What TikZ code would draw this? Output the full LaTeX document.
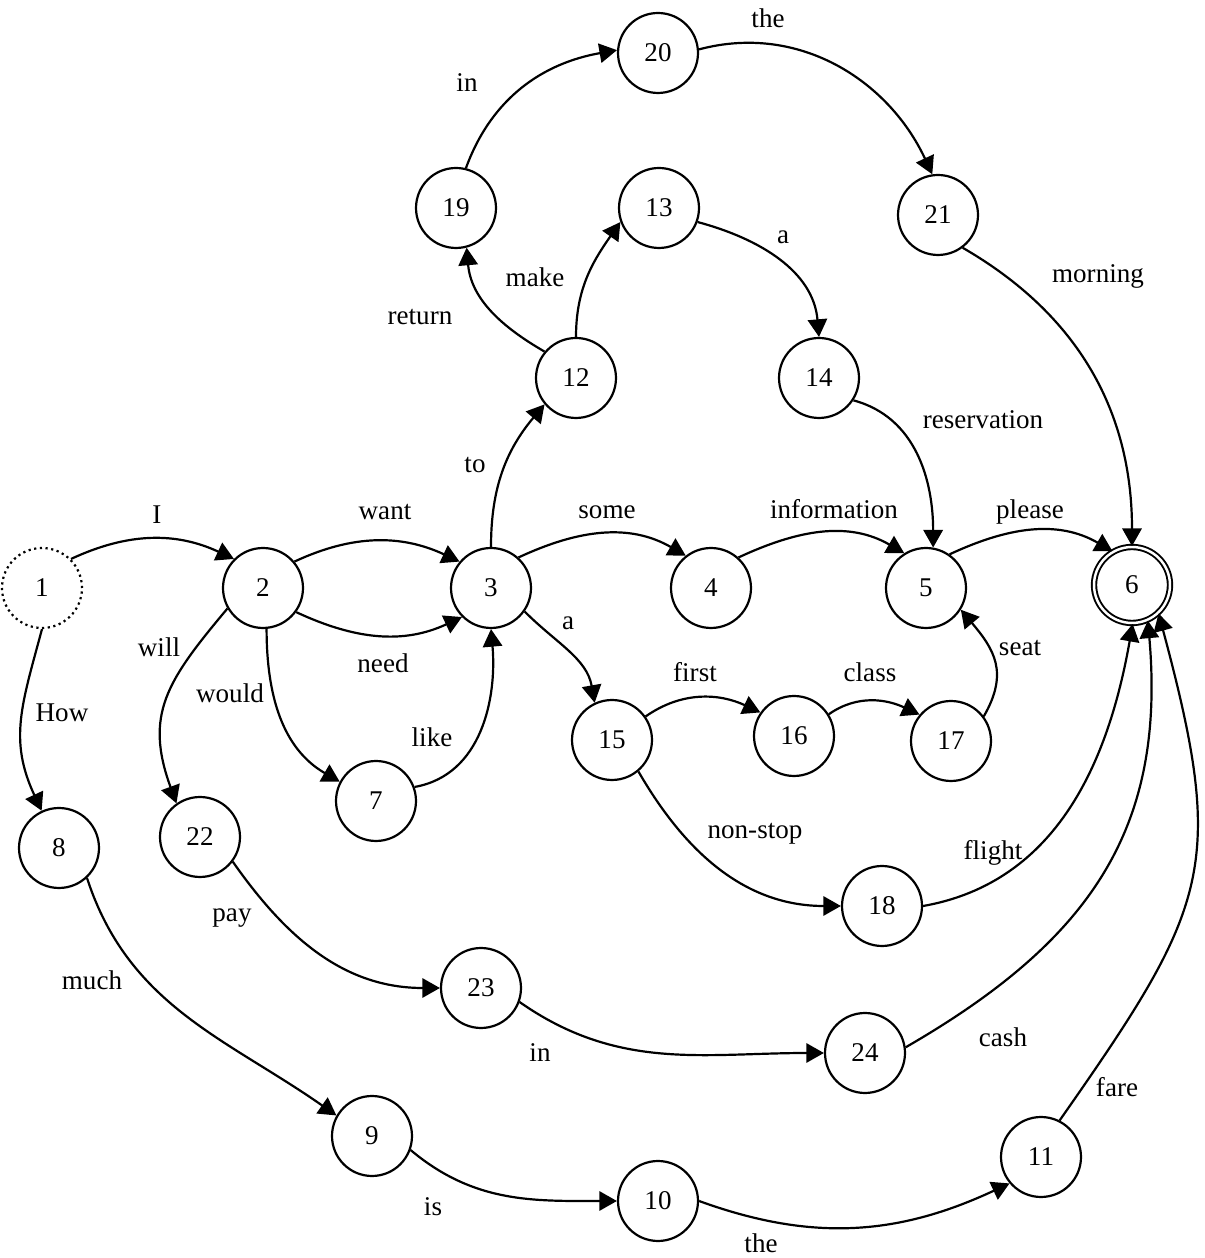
\documentclass[tikz,border=0pt]{standalone}
\usepackage{fontspec}
\setmainfont{Liberation Serif}
\usetikzlibrary{arrows.meta}
\begin{document}
\begin{tikzpicture}[
    x=0.02cm, y=0.02cm,
    vertex/.style={circle, draw=black, line width=1.25pt, fill=white,
        minimum size=1.6cm, inner sep=0pt, font=\fontsize{15.4}{18}\selectfont},
    startvertex/.style={vertex, dotted},
    finalvertex/.style={vertex, double, line width=1.1pt, double distance=1.4pt,
        minimum size=1.52cm},
    edge/.style={line width=1.25pt, -{Triangle[length=10pt, width=11pt]}},
    word/.style={inner sep=0pt, font=\fontsize{15.4}{18}\selectfont}
]
    \useasboundingbox (0,0) rectangle (1204,1258);
    \node[startvertex] (n1) at (42,670) {1};
    \node[vertex] (n2) at (263,670) {2};
    \node[vertex] (n3) at (491,670) {3};
    \node[vertex] (n4) at (711,670) {4};
    \node[vertex] (n5) at (926,670) {5};
    \node[finalvertex] (n6) at (1132,673) {6};
    \node[vertex] (n7) at (376,457) {7};
    \node[vertex] (n8) at (59,410) {8};
    \node[vertex] (n9) at (372,122) {9};
    \node[vertex] (n10) at (658,57) {10};
    \node[vertex] (n11) at (1041,101) {11};
    \node[vertex] (n12) at (576,880) {12};
    \node[vertex] (n13) at (659,1050) {13};
    \node[vertex] (n14) at (819,880) {14};
    \node[vertex] (n15) at (612,518) {15};
    \node[vertex] (n16) at (794,522) {16};
    \node[vertex] (n17) at (951,517) {17};
    \node[vertex] (n18) at (882,352) {18};
    \node[vertex] (n19) at (456,1050) {19};
    \node[vertex] (n20) at (658,1205) {20};
    \node[vertex] (n21) at (938,1043) {21};
    \node[vertex] (n22) at (200,421) {22};
    \node[vertex] (n23) at (481,270) {23};
    \node[vertex] (n24) at (865,205) {24};
    \draw[edge] (n1.45) to[out=25,in=155] (n2.135);
    \draw[edge] (n1.-90) to[out=-105,in=115,looseness=1.1] (n8.115);
    \draw[edge] (n2.40) to[out=25,in=155] (n3.140);
    \draw[edge] (n2.-36) to[out=-25,in=-155] (n3.-135);
    \draw[edge] (n2.-85) to[out=-90,in=150] (n7.152);
    \draw[edge] (n2.-150) to[out=-130,in=110,looseness=1.2] (n22.125);
    \draw[edge] (n7.20) to[out=10,in=-85] (n3.-90);
    \draw[edge] (n3.90) to[out=90,in=-130] (n12.-140);
    \draw[edge] (n3.48) to[out=25,in=150] (n4.128);
    \draw[edge] (n4.48) to[out=25,in=150] (n5.122);
    \draw[edge] (n5.55) to[out=25,in=150] (n6.120);
    \draw[edge] (n3.-35) to[out=-45,in=100] (n15.115);
    \draw[edge] (n15.35) to[out=35,in=155] (n16.145);
    \draw[edge] (n16.32) to[out=35,in=155] (n17.140);
    \draw[edge] (n17.37) to[out=60,in=-50,looseness=1.2] (n5.-32);
    \draw[edge] (n15.-50) to[out=-60,in=180] (n18.180);
    \draw[edge] (n18.0) to[out=10,in=-100] (n6.-89);
    \draw[edge] (n24.8) to[out=30,in=-85,looseness=1.1] (n6.-66);
    \draw[edge] (n11.63) to[out=55,in=-75,looseness=1.3] (n6.-47);
    \draw[edge] (n21.-53) to[out=-30,in=90] (n6.90);
    \draw[edge] (n12.140) to[out=150,in=-85] (n19.-75);
    \draw[edge] (n12.90) to[out=90,in=-125] (n13.-160);
    \draw[edge] (n13.-20) to[out=-15,in=95] (n14.90);
    \draw[edge] (n14.-33) to[out=-15,in=90] (n5.80);
    \draw[edge] (n19.76) to[out=70,in=-170] (n20.176);
    \draw[edge] (n20.5) to[out=15,in=115] (n21.98);
    \draw[edge] (n8.-47) to[out=-72,in=145] (n9.150);
    \draw[edge] (n9.-20) to[out=-40,in=180] (n10.180);
    \draw[edge] (n10.0) to[out=-20,in=-155] (n11.-140);
    \draw[edge] (n22.-37) to[out=-55,in=180] (n23.180);
    \draw[edge] (n23.-20) to[out=-35,in=180] (n24.180);
    \node[word] at (157,743) {I};
    \node[word] at (62,545) {How};
    \node[word] at (385,746) {want};
    \node[word] at (383,595) {need};
    \node[word] at (230,565) {would};
    \node[word] at (159,611) {will};
    \node[word] at (432,521) {like};
    \node[word] at (475,793) {to};
    \node[word] at (607,746) {some};
    \node[word] at (834,749) {information};
    \node[word] at (1030,746) {please};
    \node[word] at (568,635) {a};
    \node[word] at (695,586) {first};
    \node[word] at (870,586) {class};
    \node[word] at (1020,610) {seat};
    \node[word] at (755,424) {non-stop};
    \node[word] at (993,405) {flight};
    \node[word] at (1003,221) {cash};
    \node[word] at (1117,171) {fare};
    \node[word] at (1098,982) {morning};
    \node[word] at (420,941) {return};
    \node[word] at (535,981) {make};
    \node[word] at (783,1021) {a};
    \node[word] at (983,838) {reservation};
    \node[word] at (467,1175) {in};
    \node[word] at (768,1240) {the};
    \node[word] at (92,278) {much};
    \node[word] at (433,51) {is};
    \node[word] at (761,15) {the};
    \node[word] at (232,340) {pay};
    \node[word] at (540,205) {in};
\end{tikzpicture}
\end{document}
